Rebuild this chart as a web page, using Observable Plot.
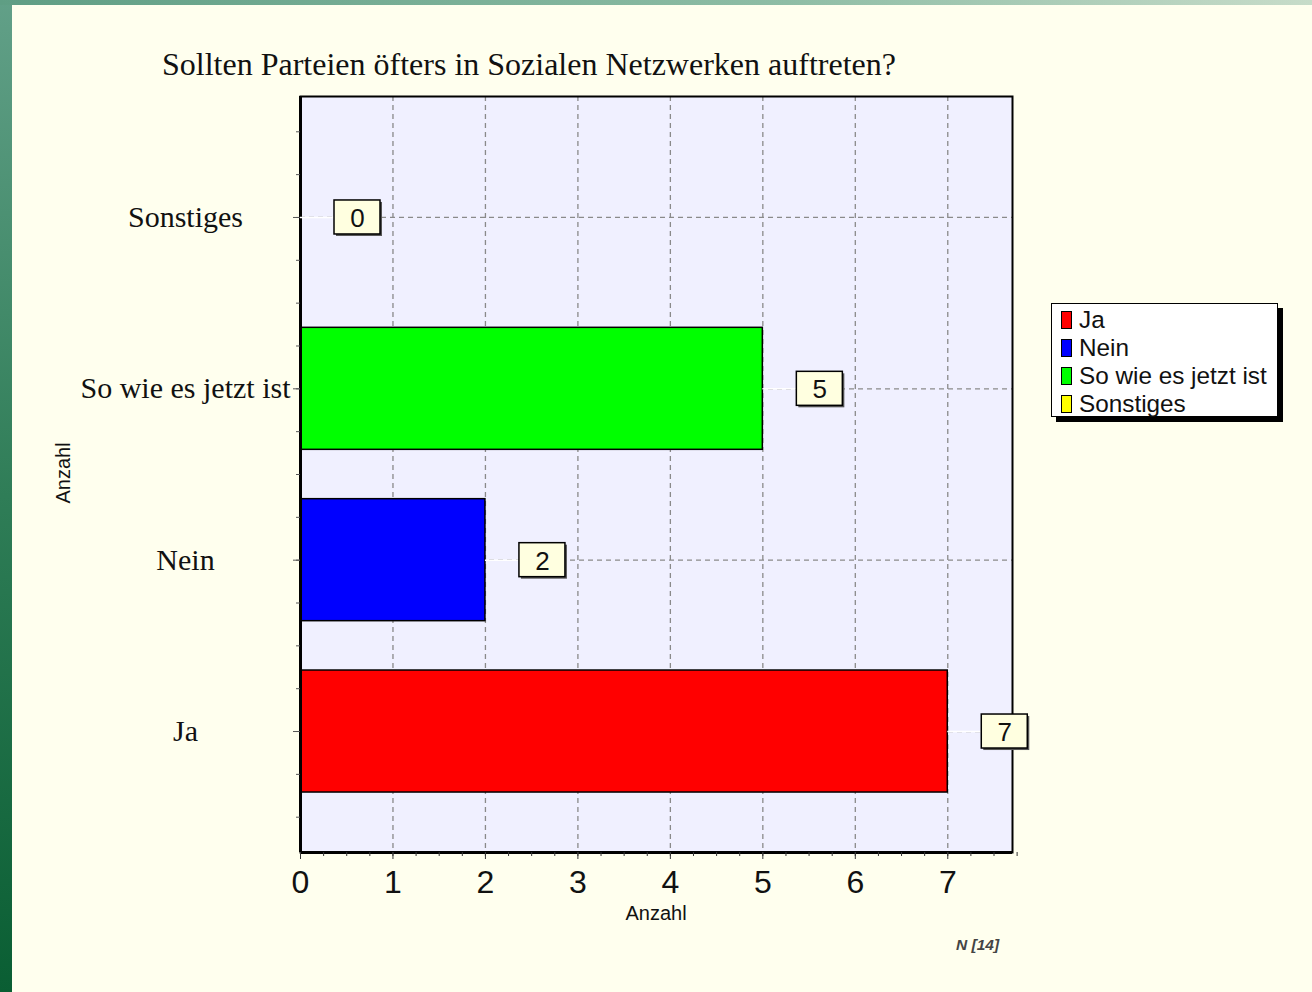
<!DOCTYPE html>
<html>
<head>
<meta charset="utf-8">
<script src="https://cdn.jsdelivr.net/npm/d3@7"></script>
<script src="https://cdn.jsdelivr.net/npm/@observablehq/plot@0.6"></script>
<style>
  html, body { margin: 0; padding: 0; background: #ffffee; overflow: hidden; }
  #wrap { position: relative; width: 1312px; height: 992px; background: #ffffee; }
  #wrap svg { position: absolute; left: 0; top: 0; background: transparent; }
  .abs { position: absolute; white-space: nowrap; color: #111; }
  #leftbar { left: 0; top: 0; width: 12px; height: 992px; background: linear-gradient(to bottom, #62a088, #2f7d57 50%, #0a5e33); }
  #topbar { left: 0; top: 0; width: 1312px; height: 5px; background: linear-gradient(to right, #5f9e84, #8ebda5 60%, #c7dcc9); }
  #title { left: 162px; top: 46px; font: 32px "Liberation Serif", serif; }
  #xlabel { left: 656px; top: 902px; transform: translateX(-50%); font: 20px "Liberation Sans", Arial, sans-serif; }
  #ylabel { left: 63px; top: 473px; transform: translate(-50%, -50%) rotate(-90deg); font: 20px "Liberation Sans", Arial, sans-serif; }
  #note { left: 956px; top: 936px; font: italic bold 15.5px "Liberation Sans", Arial, sans-serif; color: #444; }
  #legend { left: 1051px; top: 303px; width: 227px; height: 114px; background: #fff; border: 1.5px solid #000; box-shadow: 5px 5px 0 #000; font: 24.3px "Liberation Sans", Arial, sans-serif; padding: 2px 0 0 9px; box-sizing: border-box; }
  .item { display: flex; align-items: center; height: 28px; }
  .sw { width: 11px; height: 18px; border: 1px solid #000; margin-right: 7px; box-sizing: border-box; }
</style>
</head>
<body>
<div id="wrap"></div>
<script>
// ---- data ----
const categories = ["Ja", "Nein", "So wie es jetzt ist", "Sonstiges"];
const values = [7, 2, 5, 0];
const colors = ["#ff0000", "#0000ff", "#00ff00", "#ffff00"];
const xTicks = [0, 1, 2, 3, 4, 5, 6, 7];
const xLabel = "Anzahl";
const yLabel = "Anzahl";
const title = "Sollten Parteien öfters in Sozialen Netzwerken auftreten?";
const note = "N [14]";

const rows = categories.map((c, i) => ({cat: c, idx: i, value: values[i], color: colors[i]}));
const yLo = -0.706, yHi = categories.length - 1 + 0.706;
const half = 0.356;
const xMinor = d3.range(0, 7.75 + 1e-9, 0.25);
const yMinor = d3.range(-0.5, categories.length - 0.5 + 1e-9, 0.25);
const yMajor = rows.map(r => r.idx);

const chart = Plot.plot({
  width: 1312,
  height: 992,
  marginLeft: 300,
  marginRight: 300,
  marginTop: 96,
  marginBottom: 140,
  style: {background: "transparent", fontFamily: "Liberation Sans, Arial, sans-serif", color: "#000"},
  x: {domain: [0, 7.7], label: null},
  y: {domain: [yLo, yHi], label: null},
  marks: [
    Plot.frame({fill: "#f0f0ff", stroke: "none"}),
    // grid
    Plot.ruleX(xTicks.filter(d => d > 0), {x: d => d, stroke: "#8a8a8a", strokeWidth: 1.3, strokeDasharray: "5,4"}),
    Plot.ruleY(rows, {y: "idx", stroke: "#8a8a8a", strokeWidth: 1.3, strokeDasharray: "5,4"}),
    // bars
    Plot.rectX(rows.filter(r => r.value > 0), {x1: 0, x2: "value", y1: r => r.idx - half, y2: r => r.idx + half, fill: "color", stroke: "#000", strokeWidth: 1.5}),
    // frame border
    Plot.frame({stroke: "#000", strokeWidth: 2}),
    Plot.ruleX([0], {stroke: "#000", strokeWidth: 3}),
    Plot.ruleY([yLo], {stroke: "#000", strokeWidth: 3}),
    // leader lines
    Plot.ruleY(rows, {y: "idx", x1: "value", x2: "value", insetLeft: 0, insetRight: -34, stroke: "#fff", strokeWidth: 1.5}),
    // value boxes (shadow + box)
    Plot.rect(rows, {x1: "value", x2: "value", y1: "idx", y2: "idx", insetLeft: 36, insetRight: -82, insetTop: -15, insetBottom: -19, fill: "#555"}),
    Plot.rect(rows, {x1: "value", x2: "value", y1: "idx", y2: "idx", insetLeft: 34, insetRight: -80, insetTop: -17, insetBottom: -17, fill: "#ffffe0", stroke: "#000", strokeWidth: 1.5}),
    Plot.text(rows, {x: "value", y: "idx", text: d => String(d.value), dx: 57, dy: 1, fontSize: 26, fontFamily: "Liberation Sans, Arial, sans-serif", fill: "#111"}),
    // axes ticks
    Plot.axisX({ticks: xMinor, tickSize: 4, tickFormat: () => "", stroke: "#333", label: null}),
    Plot.axisX({ticks: xTicks, tickSize: 7, tickFormat: () => "", stroke: "#333", label: null}),
    Plot.axisY({ticks: yMinor, tickSize: 4, tickFormat: () => "", stroke: "#555", label: null}),
    Plot.axisY({ticks: yMajor, tickSize: 7, tickFormat: () => "", stroke: "#555", label: null}),
    // tick labels
    Plot.text(xTicks, {x: d => d, frameAnchor: "bottom", dy: 40, text: d => String(d), fontSize: 32, fontFamily: "Liberation Sans, Arial, sans-serif", fill: "#111"}),
    Plot.text(rows, {y: "idx", frameAnchor: "left", dx: -115, text: "cat", textAnchor: "middle", fontSize: 30, fontFamily: "Liberation Serif, Times New Roman, serif", fill: "#111"})
  ]
});

const wrap = document.getElementById("wrap");
wrap.appendChild(chart);

function addDiv(id, text) {
  const d = document.createElement("div");
  d.id = id; d.className = "abs";
  if (text != null) d.textContent = text;
  wrap.appendChild(d);
  return d;
}
addDiv("title", title);
addDiv("xlabel", xLabel);
addDiv("ylabel", yLabel);
addDiv("note", note);
const leg = addDiv("legend");
rows.forEach(r => {
  const it = document.createElement("div");
  it.className = "item";
  const sw = document.createElement("span");
  sw.className = "sw"; sw.style.background = r.color;
  const t = document.createElement("span");
  t.textContent = r.cat;
  it.appendChild(sw); it.appendChild(t);
  leg.appendChild(it);
});
addDiv("leftbar");
addDiv("topbar");
</script>
</body>
</html>
